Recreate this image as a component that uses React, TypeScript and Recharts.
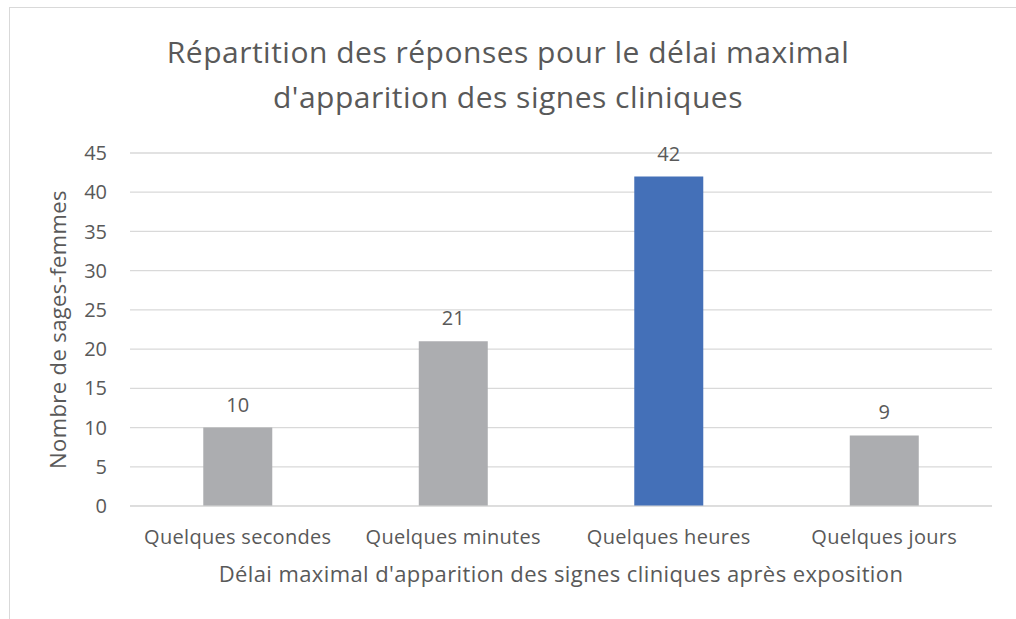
import { BarChart, Bar, XAxis, YAxis, CartesianGrid, Cell, LabelList } from 'recharts';

const categories = ['Quelques secondes', 'Quelques minutes', 'Quelques heures', 'Quelques jours'];
const counts = [10, 21, 42, 9];
const highlight = [false, false, true, false];
const yTicks = [0, 5, 10, 15, 20, 25, 30, 35, 40, 45];

const data = categories.map((name, i) => ({ name, value: counts[i], hi: highlight[i] }));

const FONT = '"Open Sans", "Noto Sans", sans-serif';
const TEXT = '#595959';

export default function App() {
  return (
    <div style={{ position: 'absolute', left: 0, top: 0, width: 1016, height: 619, background: '#fff', overflow: 'hidden', fontFamily: FONT }}>
      <div style={{ position: 'absolute', left: 9, top: 7, width: 1100, height: 700, border: '1px solid #d9d9d9' }} />
      <div style={{ position: 'absolute', left: 0, top: 29, width: 1016, textAlign: 'center', fontSize: 30, lineHeight: '45px', letterSpacing: 0.5, color: TEXT }}>
        Répartition des réponses pour le délai maximal
        <br />
        d'apparition des signes cliniques
      </div>
      <div style={{ position: 'absolute', left: 0, top: 0 }}>
        <BarChart width={1016} height={619} data={data} margin={{ top: 153, right: 24, bottom: 83, left: 0 }} barCategoryGap="34%">
          <CartesianGrid vertical={false} stroke="#d9d9d9" strokeWidth={1.3} />
          <XAxis
            dataKey="name"
            height={30}
            axisLine={{ stroke: '#d9d9d9' }}
            tickLine={false}
            tick={{ fill: TEXT, fontSize: 20, fontFamily: FONT, letterSpacing: 0.3 }}
            tickMargin={18}
            label={{ value: "Délai maximal d'apparition des signes cliniques après exposition", position: 'bottom', offset: 30, fill: TEXT, fontSize: 22, fontFamily: FONT, letterSpacing: 0.4 }}
          />
          <YAxis
            width={130}
            domain={[0, 45]}
            ticks={yTicks}
            interval={0}
            axisLine={false}
            tickLine={false}
            tick={{ fill: TEXT, fontSize: 20, fontFamily: FONT }}
            tickMargin={17}
            label={{ value: 'Nombre de sages-femmes', angle: -90, position: 'insideLeft', offset: 58, fill: TEXT, fontSize: 22, fontFamily: FONT, letterSpacing: 0.4, style: { textAnchor: 'middle' } }}
          />
          <Bar dataKey="value" isAnimationActive={false}>
            {data.map((d, i) => (
              <Cell key={i} fill={d.hi ? '#4470b8' : '#acadb0'} />
            ))}
            <LabelList dataKey="value" position="top" offset={16} fill={TEXT} fontSize={20} fontFamily={FONT} />
          </Bar>
        </BarChart>
      </div>
    </div>
  );
}
